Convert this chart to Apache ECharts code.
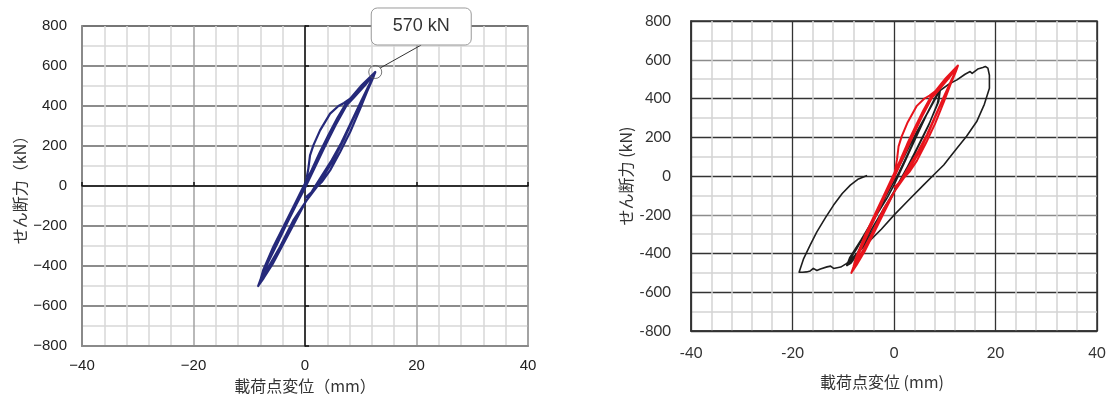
<!DOCTYPE html>
<html>
<head>
<meta charset="utf-8">
<script src="https://cdn.jsdelivr.net/npm/echarts@6/dist/echarts.min.js"></script>
<style>
  html, body { margin: 0; padding: 0; background: #fff; }
  #chart { width: 1110px; height: 399px; }
</style>
</head>
<body>
<div id="chart"></div>
<script>
// Load-point displacement (mm) vs shear force (kN), cyclic loading to about +12.6 / -8.4 mm
const loopsSmall = [
  [0, 0], [0.3, 40], [0.6, 87], [0.9, 153], [1.5, 203], [2.7, 278], [4.5, 362], [6.0, 400], [7.0, 415], [8.1, 437], [10.2, 505], [12.6, 570],
  [12.2, 540], [11.1, 470], [9.9, 387], [8.1, 270], [6.3, 170], [4.5, 78], [3.0, 20], [2.1, -5], [0.3, -72], [-2.1, -172], [-4.5, -305], [-6.9, -422], [-7.8, -472], [-8.4, -500],
  [-8.0, -470], [-7.5, -421], [-5.7, -305], [-3.9, -205], [-2.1, -105], [-0.9, -38], [0, 12], [1.2, 80], [2.6, 165], [4.2, 255], [5.8, 340], [7.4, 415], [8.5, 445], [10.5, 510], [12.6, 568],
  [11.4, 500], [10.0, 420], [8.3, 320], [6.5, 215], [4.8, 130], [3.2, 60], [1.5, -15], [0, -85], [-1.8, -180], [-3.8, -285], [-5.8, -390], [-7.4, -460], [-8.3, -495],
  [-7.6, -445], [-6.6, -380], [-5.0, -290], [-3.3, -190], [-1.6, -95], [0, -10], [1.8, 95], [3.6, 200], [5.5, 305], [7.5, 405], [8.7, 440], [10.8, 505], [12.5, 565],
  [11.8, 520], [10.4, 440], [8.8, 345], [7.0, 235], [5.0, 125], [3.0, 35], [1.4, -25], [0, -60]
];

// Cyclic loading followed by a large excursion to about +19 / -19 mm
const loopsLarge = [
  [0, 0], [2.0, 100], [4.5, 229], [7.1, 350], [8.5, 420], [9.1, 442],
  [8.8, 384], [7.1, 280], [4.5, 143], [2.5, 40], [0, -80], [-2.5, -190], [-5.0, -300], [-7.5, -410], [-9.2, -462],
  [-9.0, -440], [-7.3, -374], [-4.7, -254], [-1.4, -115], [0, -47], [1.9, 60], [4.0, 180], [6.5, 320], [8.5, 415], [9.1, 440],
  [8.5, 370], [6.8, 260], [4.2, 120], [2.0, 15], [-0.5, -110], [-3.0, -230], [-6.0, -360], [-8.5, -450], [-9.3, -462],
  [-8.7, -420], [-6.5, -330], [-4.0, -220], [-1.5, -100], [1.0, 20], [3.0, 130], [5.5, 270], [8.0, 400], [8.8, 436],
  [11.1, 479], [12.4, 496], [14.0, 525], [15.0, 539], [15.4, 530], [15.6, 540], [16.5, 552], [17.5, 560], [18.0, 565], [18.5, 557],
  [18.8, 520], [18.8, 453], [17.8, 370], [16.3, 281], [14.3, 205], [12.4, 143], [10.8, 90], [9.8, 57], [7.8, 5], [5.8, -47],
  [2.9, -124], [0, -202], [-2.5, -275], [-5.3, -348], [-8.0, -417], [-9.3, -451],
  [-10.5, -470], [-11.9, -477], [-12.5, -465], [-13.2, -469], [-14.5, -480], [-15.2, -488], [-15.9, -477], [-16.5, -490],
  [-17.2, -495], [-18.0, -497], [-18.7, -497], [-18.9, -490],
  [-17.8, -426], [-16.5, -355], [-15.2, -288], [-13.5, -215], [-11.9, -150], [-10.2, -90], [-8.6, -47], [-7.0, -15], [-5.3, 3]
];

// Maximum shear force of the first test, marked with a callout
const peakSmall = [[12.6, 570]];

const dispRange = [-40, 40];
const dispStep = 20;
const forceRange = [-800, 800];
const forceStep = 200;

const leftFont = 'Liberation Sans, Arial, sans-serif';
const rightFont = 'Lato, "Open Sans", sans-serif';
const jpFont = '"Noto Sans CJK JP", sans-serif';
const minusSign = v => String(v).replace('-', '\u2212');

const chart = echarts.init(document.getElementById('chart'), null, { renderer: 'canvas' });

const option = {
  backgroundColor: '#fff',
  animation: false,
  grid: [
    { left: 82, top: 26, width: 446, height: 320, show: true, borderColor: '#8a8a8a', borderWidth: 1.5, backgroundColor: 'transparent' },
    { left: 691, top: 21, width: 406, height: 310, show: true, borderColor: '#333', borderWidth: 1.5, backgroundColor: 'transparent' }
  ],
  xAxis: [
    {
      gridIndex: 0, type: 'value', min: dispRange[0], max: dispRange[1], interval: dispStep,
      position: 'bottom',
      axisLine: { show: true, onZero: false, lineStyle: { color: '#8a8a8a', width: 2 } },
      axisTick: { show: false },
      minorTick: { show: false, splitNumber: 5 },
      axisLabel: { margin: 12, fontSize: 15, color: '#222', fontFamily: leftFont, formatter: minusSign },
      splitLine: { show: true, lineStyle: { color: '#a2a2a2', width: 1.5 } },
      minorSplitLine: { show: true, lineStyle: { color: '#d8d8d8', width: 1.5 } },
      name: '載荷点変位（mm）', nameLocation: 'middle', nameGap: 32,
      nameTextStyle: { fontSize: 16, color: '#333', fontFamily: jpFont }
    },
    {
      gridIndex: 0, type: 'value', min: dispRange[0], max: dispRange[1], interval: dispStep,
      position: 'bottom', z: 1,
      axisLine: { show: true, onZero: true, lineStyle: { color: '#111', width: 1.5 } },
      axisTick: { show: true, inside: true, length: 4, lineStyle: { color: '#111', width: 1.5 } },
      axisLabel: { show: false },
      splitLine: { show: false }
    },
    {
      gridIndex: 1, type: 'value', min: dispRange[0], max: dispRange[1], interval: dispStep,
      position: 'bottom',
      axisLine: { show: true, onZero: false, lineStyle: { color: '#333', width: 1.5 } },
      axisTick: { show: false },
      minorTick: { show: false, splitNumber: 5 },
      axisLabel: { margin: 15, fontSize: 15, color: '#333', fontFamily: rightFont },
      splitLine: { show: true, lineStyle: { color: '#333', width: 1.3 } },
      minorSplitLine: { show: true, lineStyle: { color: '#d4d4d4', width: 1.5 } },
      name: '載荷点変位 (mm)', nameLocation: 'middle', nameGap: 43,
      nameTextStyle: { fontSize: 16, color: '#333', fontFamily: jpFont, padding: [0, 24, 0, 0] }
    }
  ],
  yAxis: [
    {
      gridIndex: 0, type: 'value', min: forceRange[0], max: forceRange[1], interval: forceStep,
      position: 'left',
      axisLine: { show: true, onZero: false, lineStyle: { color: '#8a8a8a', width: 2 } },
      axisTick: { show: false },
      minorTick: { show: false, splitNumber: 2 },
      axisLabel: { margin: 15, fontSize: 15, color: '#222', fontFamily: leftFont, formatter: minusSign },
      splitLine: { show: true, lineStyle: { color: '#666', width: 1.5 } },
      minorSplitLine: { show: true, lineStyle: { color: '#d8d8d8', width: 1.5 } },
      name: 'せん断力（kN）', nameLocation: 'middle', nameGap: 54,
      nameTextStyle: { fontSize: 16, color: '#333', fontFamily: jpFont }
    },
    {
      gridIndex: 0, type: 'value', min: forceRange[0], max: forceRange[1], interval: forceStep,
      position: 'left', z: 1,
      axisLine: { show: true, onZero: true, lineStyle: { color: '#111', width: 1.5 } },
      axisTick: { show: true, inside: true, length: 4, lineStyle: { color: '#111', width: 1.5 } },
      axisLabel: { show: false },
      splitLine: { show: false }
    },
    {
      gridIndex: 1, type: 'value', min: forceRange[0], max: forceRange[1], interval: forceStep,
      position: 'left',
      axisLine: { show: true, onZero: false, lineStyle: { color: '#333', width: 1.5 } },
      axisTick: { show: false },
      minorTick: { show: false, splitNumber: 2 },
      axisLabel: { margin: 20, fontSize: 15, color: '#333', fontFamily: rightFont },
      splitLine: {
        show: true,
        lineStyle: { color: ['#333', '#333', '#333', '#8c8c8c', '#333', '#333', '#333', '#8c8c8c', '#333'], width: 1.3 }
      },
      minorSplitLine: { show: true, lineStyle: { color: '#d4d4d4', width: 1.5 } },
      name: 'せん断力 (kN)', nameLocation: 'middle', nameGap: 57,
      nameTextStyle: { fontSize: 16, color: '#333', fontFamily: jpFont }
    }
  ],
  series: [
    {
      type: 'line', xAxisIndex: 0, yAxisIndex: 0, z: 3,
      data: loopsSmall, showSymbol: false, smooth: false,
      lineStyle: { color: '#25297a', width: 2.2, join: 'round' }
    },
    {
      type: 'scatter', xAxisIndex: 0, yAxisIndex: 0, z: 4,
      data: peakSmall, symbol: 'circle', symbolSize: 13,
      itemStyle: { color: 'rgba(0,0,0,0)', borderColor: '#555', borderWidth: 1 }
    },
    {
      type: 'line', xAxisIndex: 2, yAxisIndex: 2, z: 3,
      data: loopsLarge, showSymbol: false, smooth: false,
      lineStyle: { color: '#1e1e1e', width: 1.6, join: 'round' }
    },
    {
      type: 'line', xAxisIndex: 2, yAxisIndex: 2, z: 4,
      data: loopsSmall, showSymbol: false, smooth: false,
      lineStyle: { color: '#e8141c', width: 2, join: 'round' }
    }
  ]
};

chart.setOption(option);

// Callout box for the peak value, anchored to the marked point
const [px, py] = chart.convertToPixel({ xAxisIndex: 0, yAxisIndex: 0 }, peakSmall[0]);
chart.setOption({
  graphic: [
    {
      type: 'line', z: 10, silent: true,
      shape: { x1: px + 5, y1: py - 4, x2: px + 46, y2: py - 27 },
      style: { stroke: '#333', lineWidth: 1 }
    },
    {
      type: 'rect', z: 11, silent: true,
      shape: { x: px - 4, y: py - 64, width: 100, height: 37, r: 6 },
      style: { fill: '#fff', stroke: '#9a9a9a', lineWidth: 1 }
    },
    {
      type: 'text', z: 12, silent: true,
      x: px + 46, y: py - 45.5,
      style: {
        text: peakSmall[0][1] + ' kN', fill: '#333', fontSize: 18, fontFamily: leftFont,
        align: 'center', verticalAlign: 'middle'
      }
    }
  ]
});
</script>
</body>
</html>
